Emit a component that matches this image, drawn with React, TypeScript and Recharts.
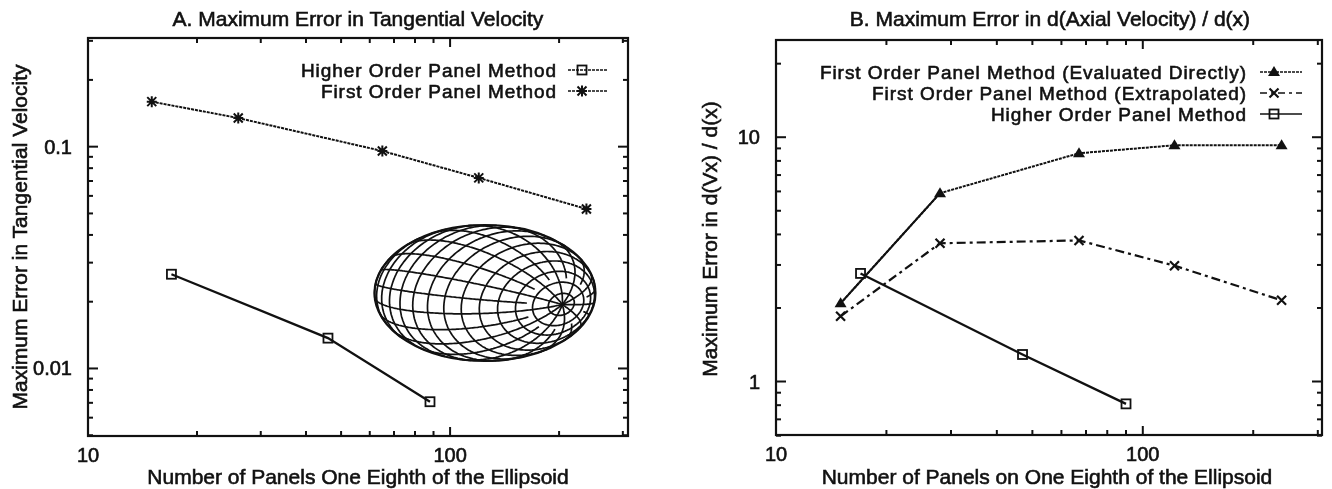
import { Line, LineChart, XAxis, YAxis } from 'recharts'

const ink = '#111'
const font = '"Liberation Sans", Arial, sans-serif'

// Panel A
const xTicksA = [10, 20, 30, 40, 50, 60, 70, 80, 90, 100, 200, 300]
const yTicksA = [0.005, 0.006, 0.007, 0.008, 0.009, 0.01, 0.02, 0.03, 0.04, 0.05, 0.06, 0.07, 0.08, 0.09, 0.1, 0.2, 0.3]
const firstPanelsA = [15, 26, 65, 120, 238]
const firstErrorA = [0.1596, 0.1346, 0.0956, 0.0723, 0.0524]
const higherPanelsA = [17, 46, 88]
const higherErrorA = [0.0266, 0.0137, 0.00708]

// Panel B
const xTicksB = [10, 20, 30, 40, 50, 60, 70, 80, 90, 100, 200, 300]
const yTicksB = [0.6, 0.7, 0.8, 0.9, 1, 2, 3, 4, 5, 6, 7, 8, 9, 10, 20]
const directPanelsB = [15, 28, 67, 122, 239]
const directErrorB = [2.09, 5.9, 8.6, 9.27, 9.27]
const extrapPanelsB = [15, 28, 67, 122, 239]
const extrapErrorB = [1.85, 3.68, 3.78, 2.98, 2.15]
const higherPanelsB = [17, 47, 90]
const higherErrorB = [2.77, 1.29, 0.81]

const labelledX = [10, 100]
const labelledYA = [0.01, 0.1]
const labelledYB = [1, 10]

const zip = (xs: number[], ys: number[]) => xs.map((x, i) => ({ x, y: ys[i] }))

const W = 666
const H = 489
const layoutA = { left: 88, right: 628, top: 38, bottom: 436 }
const layoutB = { left: 110, right: 656, top: 40, bottom: 435 }

type Box = typeof layoutA
type MarkerKind = 'square' | 'star' | 'triangle' | 'cross'

function Marker({ kind, cx, cy }: { kind: MarkerKind; cx: number; cy: number }) {
  if (kind === 'square') {
    return <rect x={cx - 4.5} y={cy - 4.5} width={9} height={9} fill="#fff" fillOpacity={0} stroke={ink} strokeWidth={1.8} />
  }
  if (kind === 'triangle') {
    return <path d={`M${cx} ${cy - 6}L${cx + 6} ${cy + 4}L${cx - 6} ${cy + 4}Z`} fill={ink} />
  }
  const cross = `M${cx - 4.5} ${cy - 4.5}L${cx + 4.5} ${cy + 4.5}M${cx - 4.5} ${cy + 4.5}L${cx + 4.5} ${cy - 4.5}`
  if (kind === 'cross') return <path d={cross} stroke={ink} strokeWidth={2.2} fill="none" />
  return <path d={`${cross}M${cx} ${cy - 5.5}V${cy + 5.5}M${cx - 5} ${cy}H${cx + 5}`} stroke={ink} strokeWidth={2} fill="none" />
}

const dotOf = (kind: MarkerKind) => (p: any) => <Marker key={p.index} kind={kind} cx={p.cx} cy={p.cy} />

function xTick(p: any, box: Box, labelled: number[]) {
  const major = labelled.includes(p.payload.value)
  const len = major ? 9 : 5
  return (
    <g>
      <line x1={p.x} x2={p.x} y1={box.bottom} y2={box.bottom - len} stroke={ink} strokeWidth={2} />
      <line x1={p.x} x2={p.x} y1={box.top} y2={box.top + len} stroke={ink} strokeWidth={2} />
      {major && (
        <text x={p.x} y={box.bottom + 26} textAnchor="middle" fontFamily={font} fontSize={20} fill={ink} stroke={ink} strokeWidth={0.6}>
          {p.payload.value}
        </text>
      )}
    </g>
  )
}

function yTick(p: any, box: Box, labelled: number[]) {
  const major = labelled.includes(p.payload.value)
  const len = major ? 10 : 5
  return (
    <g>
      <line y1={p.y} y2={p.y} x1={box.left} x2={box.left + len} stroke={ink} strokeWidth={2} />
      <line y1={p.y} y2={p.y} x1={box.right} x2={box.right - len} stroke={ink} strokeWidth={2} />
      {major && (
        <text x={box.left - 16} y={p.y + 7} textAnchor="end" fontFamily={font} fontSize={20} fill={ink} stroke={ink} strokeWidth={0.6}>
          {p.payload.value}
        </text>
      )}
    </g>
  )
}

function Caption(props: { x: number; y: number; rotate?: boolean; anchor?: string; size?: number; spacing?: number; children: string }) {
  const { x, y, rotate, anchor = 'middle', size = 21, spacing, children } = props
  return (
    <text
      x={x}
      y={y}
      textAnchor={anchor as any}
      transform={rotate ? `rotate(-90 ${x} ${y})` : undefined}
      fontFamily={font}
      fontSize={size}
      letterSpacing={spacing}
      fill={ink}
      stroke={ink}
      strokeWidth={0.6}
    >
      {children}
    </text>
  )
}

function LegendRow(props: { textX: number; y: number; label: string; kind: MarkerKind; dash?: string; x1: number; x2: number; mx: number }) {
  const { textX, y, label, kind, dash, x1, x2, mx } = props
  return (
    <g>
      <Caption x={textX} y={y + 7} anchor="end" size={19} spacing={0.95}>{label}</Caption>
      <line x1={x1} x2={x2} y1={y} y2={y} stroke={ink} strokeWidth={1.7} strokeDasharray={dash} />
      <Marker kind={kind} cx={mx} cy={y} />
    </g>
  )
}

// wireframe of the ellipsoid shown as an inset, not a data series:
// a unit sphere seen from the front, squashed onto the outline ellipse
function ellipsoidPaths(cx: number, cy: number, rx: number, ry: number) {
  const px = 0.7
  const py = 0.17
  const pz = Math.sqrt(1 - px * px - py * py)
  const norm = Math.hypot(py, px)
  const e1 = [-py / norm, px / norm, 0]
  const e2 = [py * e1[2] - pz * e1[1], pz * e1[0] - px * e1[2], px * e1[1] - py * e1[0]]
  const at = (phi: number, th: number) => {
    const u = Math.cos(phi)
    const v = Math.sin(phi)
    const k = (p: number, i: number) => u * p + v * (Math.cos(th) * e1[i] + Math.sin(th) * e2[i])
    return { x: cx + rx * k(px, 0), y: cy + ry * k(py, 1), seen: k(pz, 2) > 0 }
  }
  const stations = 19
  const meridians = 22
  const polar = Math.PI / 8
  const paths: string[] = []
  const trace = (pts: { x: number; y: number; seen: boolean }[]) => {
    let line = ''
    let pen = false
    pts.forEach((q) => {
      if (q.seen) {
        line += `${pen ? 'L' : 'M'}${q.x.toFixed(1)} ${q.y.toFixed(1)}`
        pen = true
      } else pen = false
    })
    if (line) paths.push(line)
  }
  for (let j = 1; j < stations; j++) {
    const phi = (Math.PI * j) / stations
    trace(Array.from({ length: 241 }, (_, i) => at(phi, (2 * Math.PI * i) / 240)))
  }
  for (let m = 0; m < meridians; m++) {
    const th = (2 * Math.PI * m) / meridians
    // every other meridian stops short of the pole so the fan stays open
    const start = m % 2 ? polar : 0
    trace(Array.from({ length: 181 }, (_, i) => at(start + ((Math.PI - start) * i) / 180, th)))
  }
  return paths
}

function Ellipsoid() {
  const paths = ellipsoidPaths(485, 293, 110.5, 68)
  return (
    <g fill="none" stroke={ink}>
      {paths.map((d, i) => (
        <path key={i} d={d} strokeWidth={1.7} />
      ))}
      <ellipse cx={485} cy={293} rx={110.5} ry={68} strokeWidth={2.2} />
    </g>
  )
}

function Frame({ box }: { box: Box }) {
  return (
    <rect x={box.left} y={box.top} width={box.right - box.left} height={box.bottom - box.top} fill="none" stroke={ink} strokeWidth={2.2} />
  )
}

const margin = (box: Box) => ({ left: 0, right: W - box.right, top: box.top, bottom: 0 })

function PanelA() {
  return (
    <LineChart width={W} height={H} margin={margin(layoutA)}>
      <XAxis
        type="number"
        dataKey="x"
        scale="log"
        domain={[10, 310]}
        ticks={xTicksA}
        interval={0}
        height={H - layoutA.bottom}
        axisLine={false}
        tickLine={false}
        tick={(p: any) => xTick(p, layoutA, labelledX)}
      />
      <YAxis
        type="number"
        dataKey="y"
        scale="log"
        domain={[0.00496, 0.309]}
        ticks={yTicksA}
        interval={0}
        width={layoutA.left}
        axisLine={false}
        tickLine={false}
        tick={(p: any) => yTick(p, layoutA, labelledYA)}
      />
      <Line data={zip(higherPanelsA, higherErrorA)} dataKey="y" stroke={ink} strokeWidth={2.3} dot={dotOf('square')} isAnimationActive={false} />
      <Line data={zip(firstPanelsA, firstErrorA)} dataKey="y" stroke={ink} strokeWidth={2} strokeDasharray="3 1" dot={dotOf('star')} isAnimationActive={false} />
      <Frame box={layoutA} />
      <Ellipsoid />
      <Caption x={358} y={26}>A. Maximum Error in Tangential Velocity</Caption>
      <Caption x={358} y={484}>Number of Panels One Eighth of the Ellipsoid</Caption>
      <Caption x={27} y={237} rotate>Maximum Error in Tangential Velocity</Caption>
      <LegendRow textX={557} y={70} label="Higher Order Panel Method" kind="square" dash="3 1" x1={568} x2={608} mx={582} />
      <LegendRow textX={557} y={91} label="First Order Panel Method" kind="star" dash="3 1" x1={568} x2={608} mx={582} />
    </LineChart>
  )
}

function PanelB() {
  return (
    <LineChart width={W} height={H} margin={margin(layoutB)}>
      <XAxis
        type="number"
        dataKey="x"
        scale="log"
        domain={[10, 308]}
        ticks={xTicksB}
        interval={0}
        height={H - layoutB.bottom}
        axisLine={false}
        tickLine={false}
        tick={(p: any) => xTick(p, layoutB, labelledX)}
      />
      <YAxis
        type="number"
        dataKey="y"
        scale="log"
        domain={[0.604, 25]}
        ticks={yTicksB}
        interval={0}
        width={layoutB.left}
        axisLine={false}
        tickLine={false}
        tick={(p: any) => yTick(p, layoutB, labelledYB)}
      />
      <Line data={zip(directPanelsB, directErrorB)} dataKey="y" stroke={ink} strokeWidth={2} strokeDasharray="3 1" dot={dotOf('triangle')} isAnimationActive={false} />
      {/* the first stretch of this curve prints solid in the original */}
      <Line data={zip(directPanelsB, directErrorB).slice(0, 2)} dataKey="y" stroke={ink} strokeWidth={2} dot={false} isAnimationActive={false} />
      <Line data={zip(extrapPanelsB, extrapErrorB)} dataKey="y" stroke={ink} strokeWidth={2.2} strokeDasharray="9 4 3 4" dot={dotOf('cross')} isAnimationActive={false} />
      <Line data={zip(higherPanelsB, higherErrorB)} dataKey="y" stroke={ink} strokeWidth={2.3} dot={dotOf('square')} isAnimationActive={false} />
      <Frame box={layoutB} />
      <Caption x={384} y={26}>B. Maximum Error in d(Axial Velocity) / d(x)</Caption>
      <Caption x={381} y={484}>Number of Panels on One Eighth of the Ellipsoid</Caption>
      <Caption x={51} y={239} rotate>Maximum Error in d(Vx) / d(x)</Caption>
      <LegendRow textX={581} y={72} label="First Order Panel Method (Evaluated Directly)" kind="triangle" dash="3 1" x1={594} x2={636} mx={608} />
      <LegendRow textX={581} y={93} label="First Order Panel Method (Extrapolated)" kind="cross" dash="7 4 3 4" x1={594} x2={636} mx={608} />
      <LegendRow textX={581} y={114} label="Higher Order Panel Method" kind="square" x1={594} x2={636} mx={608} />
    </LineChart>
  )
}

export default function App() {
  return (
    <div style={{ position: 'absolute', left: 0, top: 0, width: 1332, height: H, background: '#fff', overflow: 'hidden', filter: 'blur(0.4px)' }}>
      <div style={{ position: 'absolute', left: 0, top: 0 }}>
        <PanelA />
      </div>
      <div style={{ position: 'absolute', left: W, top: 0 }}>
        <PanelB />
      </div>
    </div>
  )
}
